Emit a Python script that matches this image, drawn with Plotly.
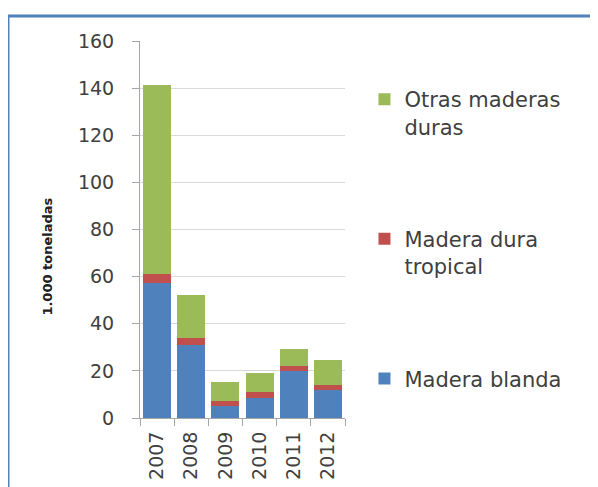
import plotly.graph_objects as go

years = ["2007", "2008", "2009", "2010", "2011", "2012"]
madera_blanda = [57.2, 30.9, 5.0, 8.5, 19.8, 11.7]
madera_dura_tropical = [4.1, 3.1, 2.2, 2.4, 2.1, 2.5]
otras_maderas_duras = [80.1, 18.1, 8.0, 8.3, 7.2, 10.3]

series = [
    ("Madera blanda", madera_blanda, "#4f81bd", "g1", 3),
    ("Madera dura<br>tropical", madera_dura_tropical, "#c0504d", "g2", 2),
    ("Otras maderas<br>duras", otras_maderas_duras, "#9bbb59", "g3", 1),
]

fig = go.Figure()
for name, vals, color, grp, rank in series:
    fig.add_trace(go.Bar(x=years, y=vals, name=name,
                         marker=dict(color=color, line=dict(width=0)),
                         legendgroup=grp, legendrank=rank))

font_fam = "DejaVu Sans, sans-serif"
fig.update_layout(
    width=590, height=479,
    barmode="stack", bargap=0.18,
    paper_bgcolor="white", plot_bgcolor="white",
    margin=dict(l=132, r=253, t=33, b=69, autoexpand=False),
    font=dict(family=font_fam, size=19, color="#404040"),
    legend=dict(x=1.095, y=0.899, xanchor="left", yanchor="top",
                traceorder="grouped", tracegroupgap=82, valign="top",
                font=dict(size=21, color="#404040"), itemwidth=30),
    xaxis=dict(type="category", tickangle=-90, showline=True, linecolor="#a6a6a6",
               ticks="outside", tickson="boundaries", ticklen=7, tickcolor="#a6a6a6",
               showgrid=False, tickfont=dict(size=19, color="#404040"),
               ticklabelstandoff=5),
    yaxis=dict(range=[0, 160], dtick=20, showline=True, linecolor="#a6a6a6",
               ticks="outside", ticklen=7, tickcolor="#a6a6a6",
               gridcolor="#d9d9d9", zeroline=False,
               tickfont=dict(size=19, color="#404040"),
               ticklabelstandoff=14),
    showlegend=True,
)

fig.add_annotation(text="<b>1.000 toneladas</b>", xref="paper", yref="paper",
                   x=-0.502, y=0.427, textangle=-90, showarrow=False,
                   font=dict(size=13, color="#202020", family=font_fam))

fig.add_shape(type="rect", xref="paper", yref="paper",
              x0=-0.644, y0=-0.25, x1=2.4, y1=1.066,
              line=dict(color="#4f81bd", width=3), layer="below")

fig.write_html("out.html")
